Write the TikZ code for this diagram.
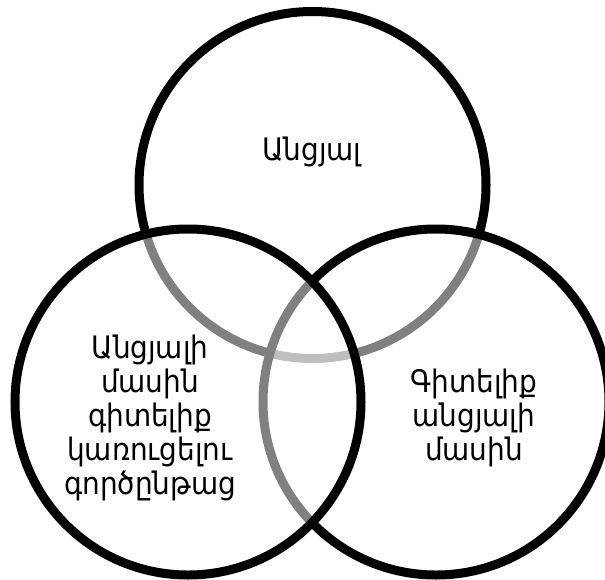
\documentclass[tikz,border=0pt]{standalone}
\usepackage{fontspec}
\setmainfont{DejaVu Sans Condensed}
\begin{document}
\begin{tikzpicture}[x=1pt,y=-1pt,
  venn/.style={draw=black, line width=9pt, fill=white, fill opacity=0.5, draw opacity=1},
  lbl/.style={align=center, font=\fontsize{31}{34}\selectfont, text=black, inner sep=0pt}]
\useasboundingbox (0,0) rectangle (605,579);
\fill[white] (0,0) rectangle (605,579);
\draw[venn] (312.5,185) circle[radius=173.5];
\draw[venn] (436,402) circle[radius=173];
\draw[venn] (188,402) circle[radius=173];
\node[lbl] (past) at (312,152) {Անցյալ};
\node[lbl] (proc) at (150,418) {Անցյալի\\մասին\\գիտելիք\\կառուցելու\\գործընթաց};
\node[lbl] (know) at (474,418) {Գիտելիք\\անցյալի\\մասին};
\end{tikzpicture}
\end{document}
